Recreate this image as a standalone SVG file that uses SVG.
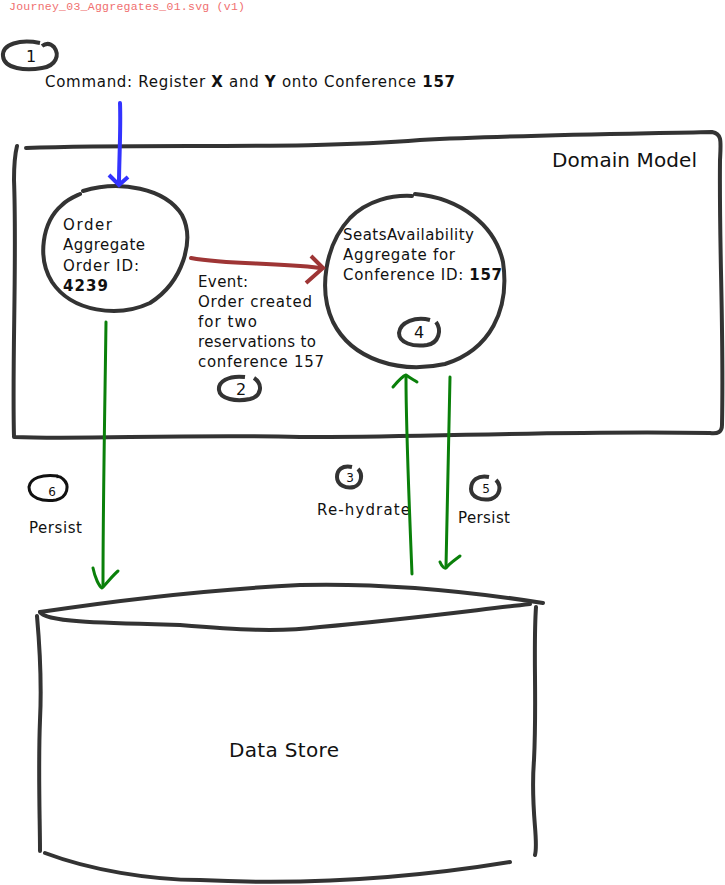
<svg xmlns="http://www.w3.org/2000/svg" width="725" height="885" viewBox="0 0 725 885">
<style>
text{font-family:"DejaVu Sans","Noto Sans","Liberation Sans",sans-serif;fill:#111;font-size:15px}
.title{font-family:"Liberation Mono","DejaVu Sans Mono",monospace;fill:#f07070;font-size:11.5px}
.big{font-size:20px}
.sk{fill:none;stroke:#333;stroke-width:4;stroke-linecap:round;stroke-linejoin:round}
.mk{fill:none;stroke:#333;stroke-width:4}
.num{font-size:16px;text-anchor:middle}
.sm{font-size:12px}
.g{fill:none;stroke:#0a800a;stroke-width:3;stroke-linecap:round;stroke-linejoin:round}
.b{font-weight:bold}
</style>
<rect width="725" height="885" fill="#fff"/>
<text class="title" x="9" y="10" textLength="236" lengthAdjust="spacing">Journey_03_Aggregates_01.svg (v1)</text>

<g id="step1">
<path class="mk" d="M40,43 C20,39 2,44 3,56 C4,69 26,71 42,68 C56,66 60,55 54,47 C50,43 46,43 42,46"/>
<text class="num" x="31" y="62">1</text>
</g>
<g id="command">
<text x="45" y="87" textLength="410" lengthAdjust="spacing">Command: Register <tspan class="b">X</tspan> and <tspan class="b">Y</tspan> onto Conference <tspan class="b">157</tspan></text>
</g>

<g id="domain-model">
<path class="sk" d="M26,148 C150,143 300,150 420,140 C520,135 620,134 712,132 C722,134 721,140 720,160 C719,250 724,330 722,425 C722,432 718,434 710,433 C560,430 420,438 300,437 C180,434 80,440 14,437 C12,360 17,260 14,180 C14,160 16,150 17,146"/>
<text class="big" x="552" y="167" textLength="145" lengthAdjust="spacing">Domain Model</text>
</g>

<g id="order-aggregate">
<path class="sk" d="M83,191 C120,180 165,188 182,215 C195,240 183,282 150,303 C118,318 72,312 52,282 C37,258 42,222 62,205 C68,199 76,196 80,194"/>
<text x="63" y="230" textLength="49" lengthAdjust="spacing">Order</text>
<text x="63" y="250" textLength="82" lengthAdjust="spacing">Aggregate</text>
<text x="63" y="271" textLength="76" lengthAdjust="spacing">Order ID:</text>
<text x="63" y="291" class="b" textLength="45" lengthAdjust="spacing">4239</text>
</g>

<g id="seats-aggregate">
<path class="sk" d="M415,194 C460,198 495,225 503,262 C510,310 490,350 445,364 C400,374 352,360 333,322 C318,290 325,245 350,218 C368,200 392,195 412,196"/>
<text x="343" y="240" textLength="131" lengthAdjust="spacing">SeatsAvailability</text>
<text x="343" y="260" textLength="112" lengthAdjust="spacing">Aggregate for</text>
<text x="343" y="280" textLength="159" lengthAdjust="spacing">Conference ID: <tspan class="b">157</tspan></text>
</g>

<g id="step4">
<path class="mk" d="M430,320 C416,316 400,322 399,333 C399,343 413,347 427,345 C439,343 442,330 436,322"/>
<text class="num" x="419" y="338">4</text>
</g>

<g id="event-label">
<text x="198" y="287" textLength="50" lengthAdjust="spacing">Event:</text>
<text x="198" y="307" textLength="114" lengthAdjust="spacing">Order created</text>
<text x="198" y="327" textLength="59" lengthAdjust="spacing">for two</text>
<text x="198" y="347" textLength="118" lengthAdjust="spacing">reservations to</text>
<text x="198" y="367" textLength="126" lengthAdjust="spacing">conference 157</text>
</g>
<g id="step2">
<path class="mk" d="M245,377 C228,375 218,382 219,390 C220,399 236,402 250,399 C262,396 263,384 254,378"/>
<text class="num" x="241" y="395">2</text>
</g>

<g id="step6">
<path fill="none" stroke="#111" stroke-width="3" d="M58,476 C42,474 30,478 29,487 C29,498 42,502 56,500 C68,497 70,485 63,479 C60,476 58,476 56,477"/>
<text class="num sm" x="52" y="496">6</text>
<text x="29" y="533" textLength="53" lengthAdjust="spacing">Persist</text>
</g>
<g id="step3">
<path fill="none" stroke="#333" stroke-width="4" d="M352,467 C342,465 337,470 337,477 C337,485 346,489 354,487 C362,484 363,474 358,469"/>
<text class="num sm" x="350" y="482">3</text>
<text x="317" y="515" textLength="93" lengthAdjust="spacing">Re-hydrate</text>
</g>
<g id="step5">
<path fill="none" stroke="#333" stroke-width="4" d="M489,477 C478,475 471,480 471,489 C471,497 481,501 491,499 C500,496 502,486 496,480"/>
<text class="num sm" x="486" y="493">5</text>
<text x="458" y="523" textLength="52" lengthAdjust="spacing">Persist</text>
</g>

<g id="data-store">
<path class="sk" d="M40,612 C120,600 200,590 300,585 C380,583 460,590 543,603"/>
<path class="sk" d="M40,612 C45,622 100,623 180,625 C240,630 280,632 320,627 C400,620 460,612 530,604"/>
<path class="sk" d="M37,616 C40,650 42,680 40,720 C38,770 40,820 40,851"/>
<path class="sk" d="M536,607 C533,650 537,700 534,760 C530,810 539,840 535,855"/>
<path class="sk" d="M45,853 C90,870 150,880 200,880 C300,885 400,880 510,862"/>
<text class="big" x="229" y="757" textLength="110" lengthAdjust="spacing">Data Store</text>
</g>

<g id="connectors">
<path fill="none" stroke="#3333ff" stroke-width="4" stroke-linecap="round" d="M120,103 C121,130 119,160 119,184"/>
<path fill="none" stroke="#3333ff" stroke-width="4" d="M109,175 L119,185 L128,177"/>
<path fill="none" stroke="#9e3535" stroke-width="4" stroke-linecap="round" d="M191,258 C230,265 270,262 320,268"/>
<path fill="none" stroke="#9e3535" stroke-width="4" stroke-linejoin="miter" d="M311,256 L323,268 L306,283"/>
<path class="g" d="M106,322 C105,400 103,500 103,585"/>
<path class="g" d="M93,568 C95,578 99,586 102,588 C108,582 113,575 118,571"/>
<path class="g" d="M412,574 C409,500 406,430 406,378"/>
<path class="g" d="M393,387 C398,381 403,376 406,375 C410,378 414,380 417,382"/>
<path class="g" d="M450,377 C448,450 447,520 446,567"/>
<path class="g" d="M440,562 C442,567 445,569 446,568 C450,563 455,560 460,556"/>
</g>
</svg>
